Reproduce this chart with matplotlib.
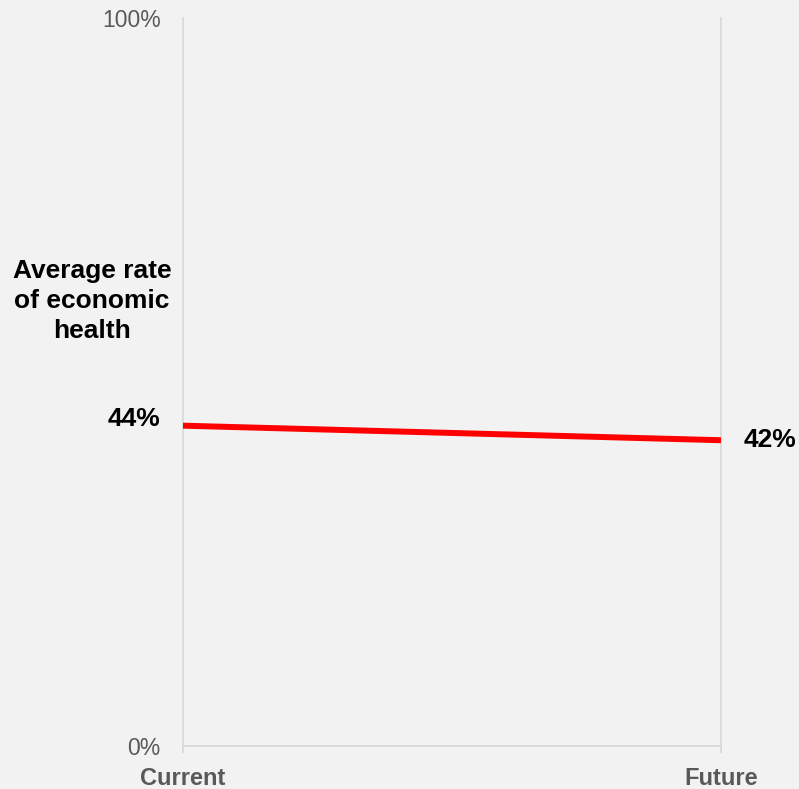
import matplotlib
matplotlib.use("Agg")
import matplotlib.pyplot as plt

categories = ["Current", "Future"]
values = [44, 42]
value_labels = ["44%", "42%"]
ytick_vals = [0, 100]
ytick_labels = ["0%", "100%"]
ylabel_text = "Average rate\nof economic\nhealth"

plt.rcParams['font.family'] = ['Liberation Sans', 'DejaVu Sans']

bg = "#f2f2f2"
grid = "#d9d9d9"
gray_txt = "#595959"

fig = plt.figure(figsize=(7.99, 7.89), dpi=100, facecolor=bg)
ax = fig.add_axes([183/799, 1-746/789, (721-183)/799, (746-18)/789], facecolor=bg)

x = list(range(len(categories)))
ax.plot(x, values, color="#ff0000", linewidth=4.3, solid_capstyle="butt", zorder=3)

ax.set_xlim(0, len(categories) - 1)
ax.set_ylim(0, 100)

ax.spines["top"].set_visible(False)
for side in ["left", "right", "bottom"]:
    ax.spines[side].set_color(grid)
    ax.spines[side].set_linewidth(1.3)

ax.set_xticks(x)
ax.set_xticklabels(categories, fontsize=17, fontweight="bold", color=gray_txt)
ax.tick_params(axis="x", length=5, width=1.3, color=grid, pad=10)

ax.set_yticks(ytick_vals)
ax.set_yticklabels(ytick_labels, fontsize=16.5, color=gray_txt)
ax.tick_params(axis="y", length=0, pad=16)

ax.annotate(value_labels[0], (x[0], values[0]), xytext=(-16, 5), textcoords="offset points",
            ha="right", va="center", fontsize=19, fontweight="bold", color="black")
ax.annotate(value_labels[1], (x[1], values[1]), xytext=(16, 0), textcoords="offset points",
            ha="left", va="center", fontsize=19, fontweight="bold", color="black")

fig.text(92/799, 1-301/789, ylabel_text, ha="center", va="center", fontsize=19,
         fontweight="bold", color="black", linespacing=1.32)

fig.savefig("out.png", dpi=100, facecolor=bg)
